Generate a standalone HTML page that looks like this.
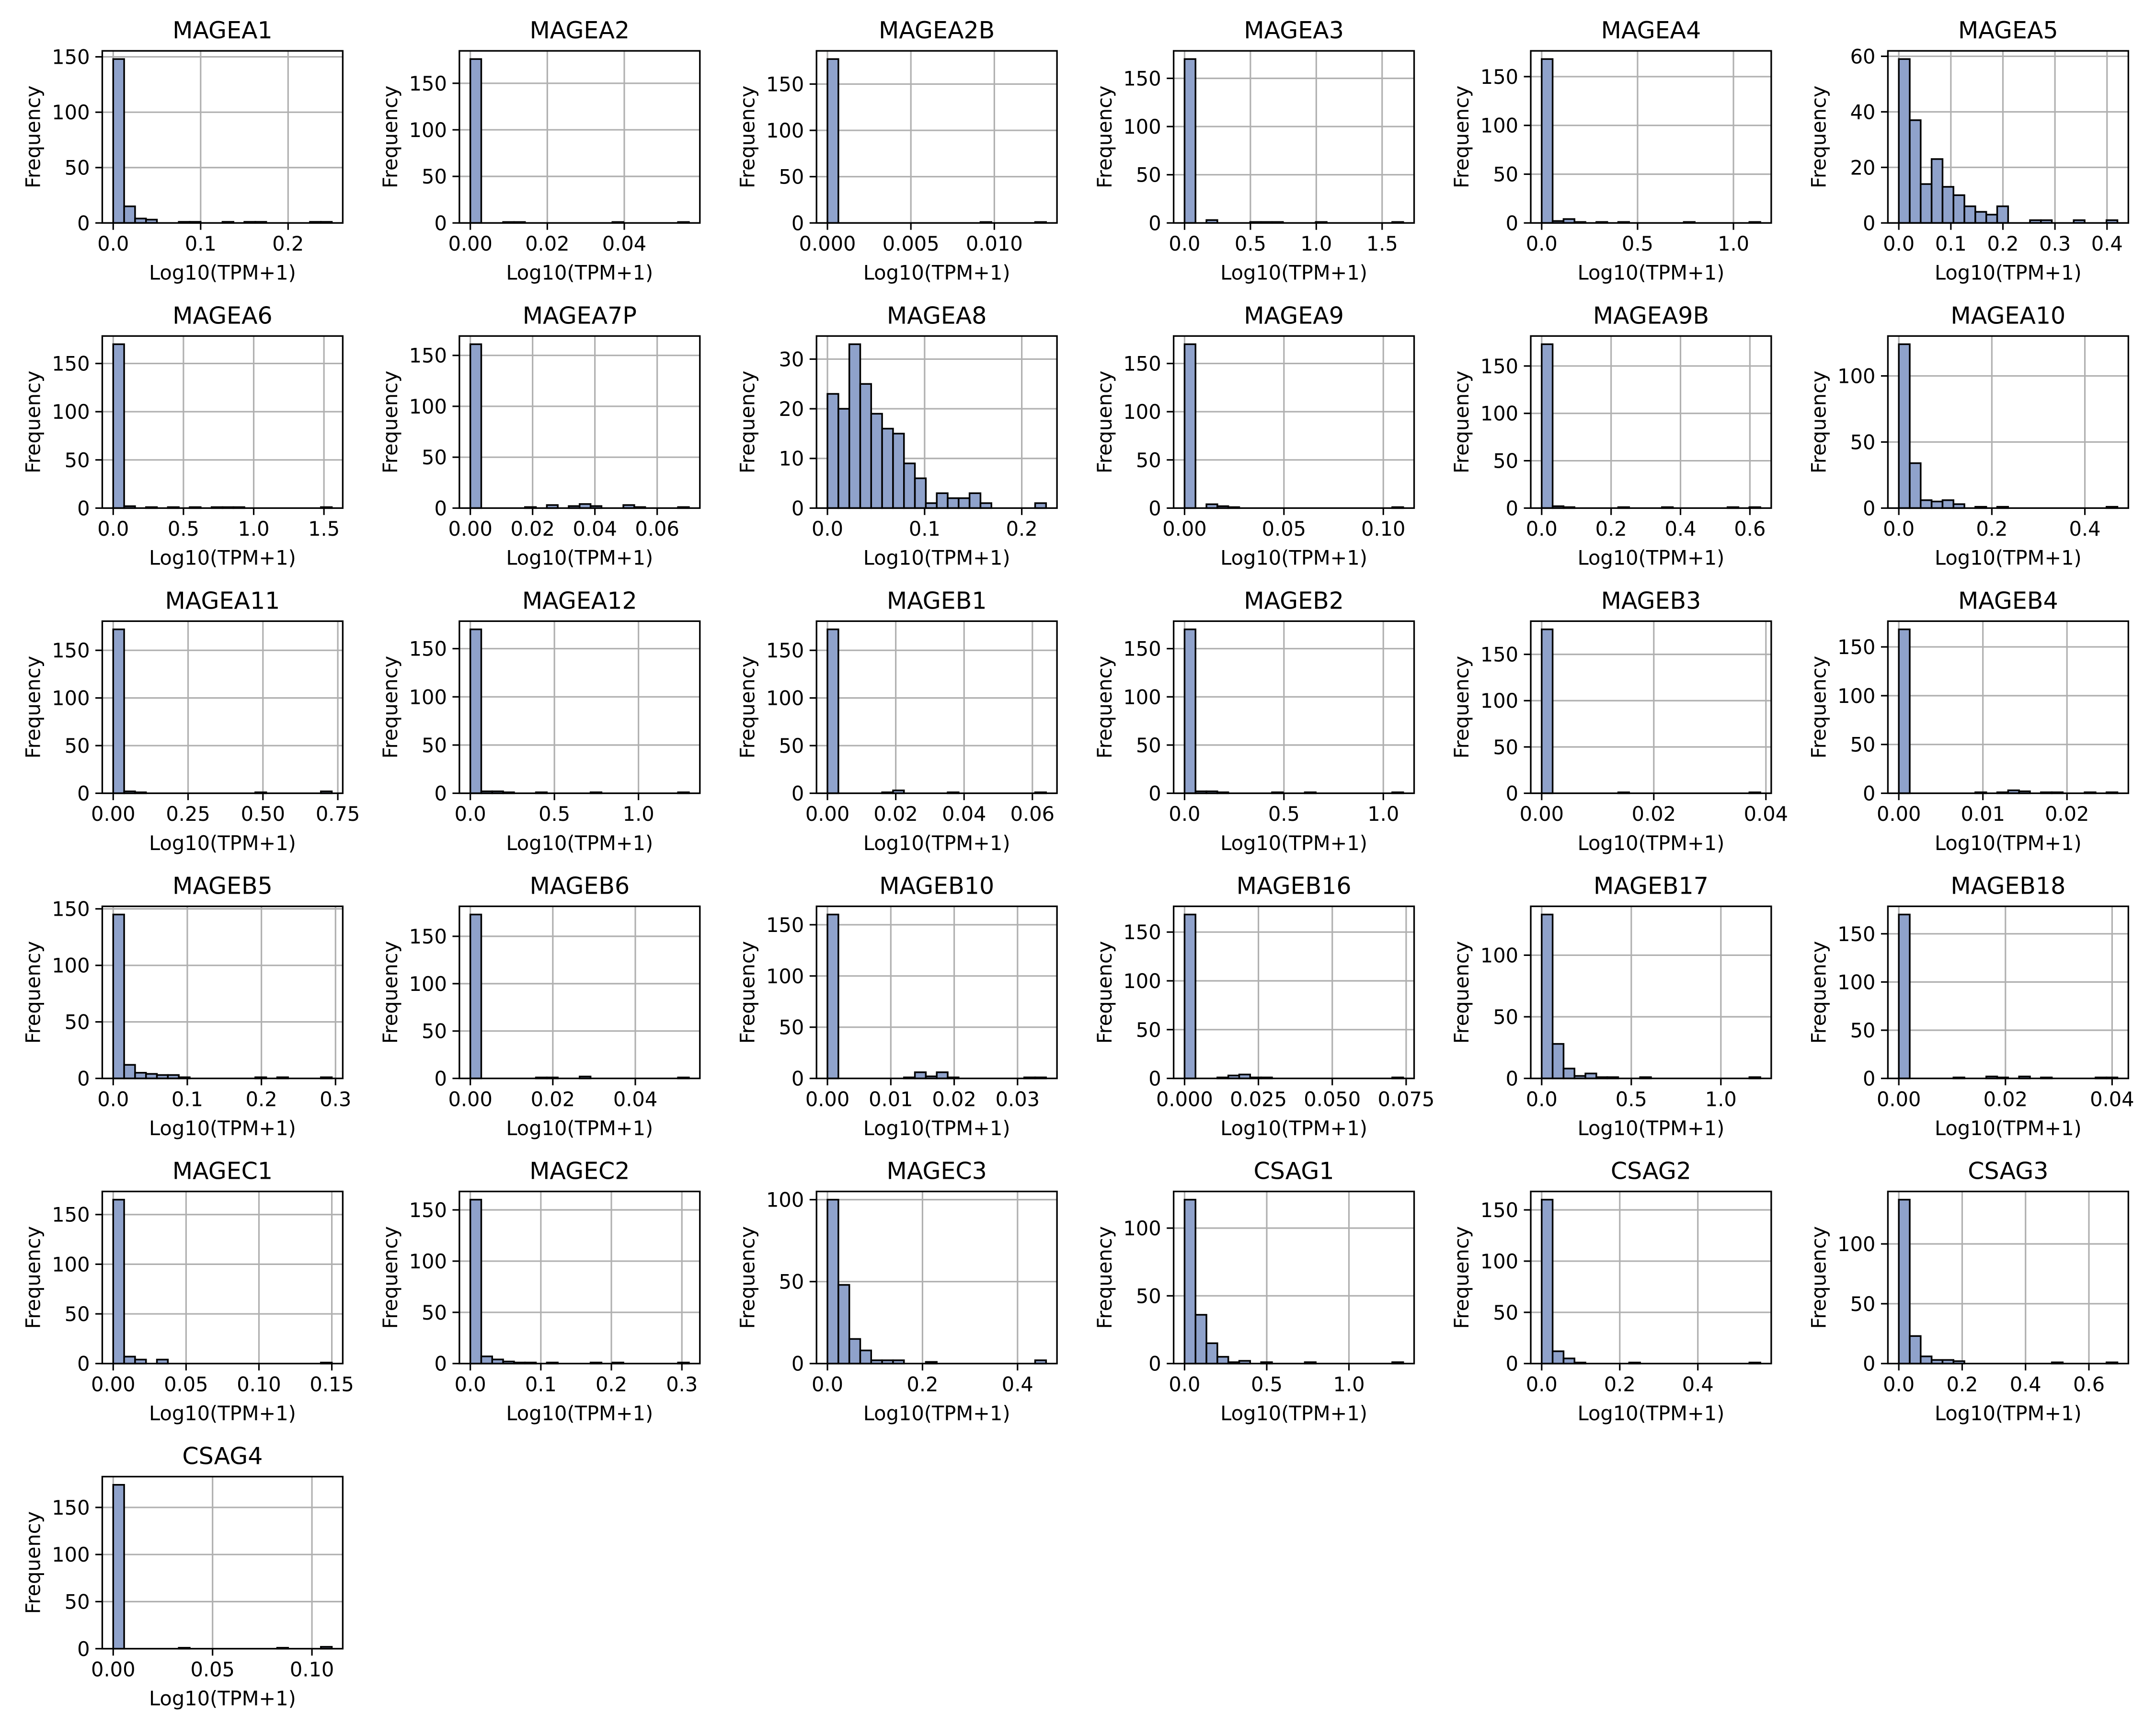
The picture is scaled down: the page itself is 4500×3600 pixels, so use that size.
<!DOCTYPE html>
<html><head><meta charset="utf-8"><style>
html,body{margin:0;padding:0;background:#fff;}
svg{display:block;}
text{font-family:"DejaVu Sans","Liberation Sans",sans-serif;fill:#000;}
</style></head><body>
<svg id="chart" xmlns="http://www.w3.org/2000/svg" width="4500" height="3600" viewBox="0 0 1560 1248" preserveAspectRatio="none"></svg>
<script>
const genes = ["MAGEA1","MAGEA2","MAGEA2B","MAGEA3","MAGEA4","MAGEA5","MAGEA6","MAGEA7P","MAGEA8","MAGEA9","MAGEA9B","MAGEA10","MAGEA11","MAGEA12","MAGEB1","MAGEB2","MAGEB3","MAGEB4","MAGEB5","MAGEB6","MAGEB10","MAGEB16","MAGEB17","MAGEB18","MAGEC1","MAGEC2","MAGEC3","CSAG1","CSAG2","CSAG3","CSAG4"];
const maxValues = [0.25,0.0568,0.0131,1.66,1.14,0.42,1.556,0.0702,0.225,0.11,0.63,0.47,0.73,1.3,0.064,1.1,0.039,0.026,0.295,0.053,0.0345,0.074,1.22,0.041,0.15,0.31,0.46,1.33,0.56,0.69,0.11];
const binCounts = [
[148,15,4,3,0,0,1,1,0,0,1,0,1,1,0,0,0,0,1,1],
[176,0,0,1,1,0,0,0,0,0,0,0,0,1,0,0,0,0,0,1],
[177,0,0,0,0,0,0,0,0,0,0,0,0,0,1,0,0,0,0,1],
[170,0,3,0,0,0,1,1,1,0,0,0,1,0,0,0,0,0,0,1],
[168,2,4,1,0,1,0,1,0,0,0,0,0,1,0,0,0,0,0,1],
[59,37,14,23,13,10,6,4,3,6,0,0,1,1,0,0,1,0,0,1],
[170,2,0,1,0,1,0,1,0,1,1,1,0,0,0,0,0,0,0,1],
[161,0,0,0,0,1,0,3,0,2,4,2,0,0,3,1,0,0,0,1],
[23,20,33,25,19,16,15,9,6,1,3,2,2,3,1,0,0,0,0,1],
[170,0,4,2,1,0,0,0,0,0,0,0,0,0,0,0,0,0,0,1],
[173,2,1,0,0,0,0,1,0,0,0,1,0,0,0,0,0,1,0,1],
[124,34,6,5,6,3,0,1,0,1,0,0,0,0,0,0,0,0,0,1],
[172,2,1,0,0,0,0,0,0,0,0,0,0,1,0,0,0,0,0,2],
[170,2,2,1,0,0,1,0,0,0,0,1,0,0,0,0,0,0,0,1],
[172,0,0,0,0,1,3,0,0,0,0,1,0,0,0,0,0,0,0,1],
[170,2,2,1,0,0,0,0,1,0,0,1,0,0,0,0,0,0,0,1],
[177,0,0,0,0,0,0,1,0,0,0,0,0,0,0,0,0,0,0,1],
[168,0,0,0,0,0,0,1,0,1,3,2,0,1,1,0,0,1,0,1],
[145,12,5,4,3,3,1,0,0,0,0,0,0,1,0,1,0,0,0,1],
[173,0,0,0,0,0,1,1,0,0,2,0,0,0,0,0,0,0,0,1],
[160,0,0,0,0,0,0,1,6,2,6,1,0,0,0,0,0,0,1,1],
[168,0,0,1,3,4,1,1,0,0,0,0,0,0,0,0,0,0,0,1],
[133,28,8,2,4,1,1,0,0,1,0,0,0,0,0,0,0,0,0,1],
[170,0,0,0,0,1,0,0,2,1,0,2,0,1,0,0,0,0,1,1],
[165,7,4,0,4,0,0,0,0,0,0,0,0,0,0,0,0,0,0,1],
[160,7,4,2,1,1,0,1,0,0,0,1,0,1,0,0,0,0,0,1],
[100,48,15,8,2,2,2,0,0,1,0,0,0,0,0,0,0,0,0,2],
[121,36,15,5,1,2,0,1,0,0,0,1,0,0,0,0,0,0,0,1],
[160,12,5,1,0,0,0,0,1,0,0,0,0,0,0,0,0,0,0,1],
[137,23,6,3,3,2,0,0,0,0,0,0,0,0,1,0,0,0,0,1],
[174,0,0,0,0,0,1,0,0,0,0,0,0,0,0,1,0,0,0,2]
];
const xTicks = [
["0.0","0.1","0.2"],["0.00","0.02","0.04"],["0.000","0.005","0.010"],["0.0","0.5","1.0","1.5"],["0.0","0.5","1.0"],["0.0","0.1","0.2","0.3","0.4"],
["0.0","0.5","1.0","1.5"],["0.00","0.02","0.04","0.06"],["0.0","0.1","0.2"],["0.00","0.05","0.10"],["0.0","0.2","0.4","0.6"],["0.0","0.2","0.4"],
["0.00","0.25","0.50","0.75"],["0.0","0.5","1.0"],["0.00","0.02","0.04","0.06"],["0.0","0.5","1.0"],["0.00","0.02","0.04"],["0.00","0.01","0.02"],
["0.0","0.1","0.2","0.3"],["0.00","0.02","0.04"],["0.00","0.01","0.02","0.03"],["0.000","0.025","0.050","0.075"],["0.0","0.5","1.0"],["0.00","0.02","0.04"],
["0.00","0.05","0.10","0.15"],["0.0","0.1","0.2","0.3"],["0.0","0.2","0.4"],["0.0","0.5","1.0"],["0.0","0.2","0.4"],["0.0","0.2","0.4","0.6"],
["0.00","0.05","0.10"]
];

const NS = "http://www.w3.org/2000/svg";
const svg = document.getElementById("chart");
function mk(tag, attrs, parent){ const e=document.createElementNS(NS,tag); for(const k in attrs) e.setAttribute(k,attrs[k]); parent.appendChild(e); return e; }
const W=174, H=124.5;
genes.forEach((g,i)=>{
  const c=i%6, r=Math.floor(i/6);
  const x0=74+258.4*c, y0=36.8+206.3*r;
  const counts=binCounts[i], R=maxValues[i];
  const cmax=Math.max(...counts);
  const ylim=cmax*1.05;
  const xs=v=>x0+(v+0.05*R)/(1.1*R)*W;
  const ys=v=>y0+H-v/ylim*H;
  let step=[10,20,50,100].find(s=>ylim/s<=4);
  const grp=mk("g",{},svg);
  
  
  xTicks[i].forEach(t=>{
    const v=parseFloat(t), x=xs(v);
    const gl=mk("line",{x1:x,x2:x,y1:y0,y2:y0+H,stroke:"#b0b0b0","stroke-width":1.1},grp);
    
    
    mk("line",{x1:x,x2:x,y1:y0+H,y2:y0+H+5,stroke:"#000","stroke-width":1.1},grp);
    const tx=mk("text",{x:x,y:y0+H+20,"font-size":14.4,"text-anchor":"middle"},grp);
    tx.textContent=t;
    
    
  });
  for(let v=0; v<=ylim; v+=step){
    const y=ys(v);
    const gl=mk("line",{x1:x0,x2:x0+W,y1:y,y2:y,stroke:"#b0b0b0","stroke-width":1.1},grp);
    
    
    mk("line",{x1:x0-5,x2:x0,y1:y,y2:y,stroke:"#000","stroke-width":1.1},grp);
    const ty=mk("text",{x:x0-9,y:y+5.2,"font-size":14.4,"text-anchor":"end"},grp);
    ty.textContent=String(v);
    
    
  }
  const bw=R/20;
  counts.forEach((n,k)=>{
    if(n<=0) return;
    const xa=xs(k*bw), xb=xs((k+1)*bw);
    const b=mk("rect",{x:xa,y:ys(n),width:xb-xa,height:ys(0)-ys(n),fill:"#8fa2cb",stroke:"#000","stroke-width":1.2},grp);
    
    
  });
  const fr=mk("rect",{x:x0,y:y0,width:W,height:H,fill:"none",stroke:"#000","stroke-width":1.15},grp);
  
  
  const tt=mk("text",{x:x0+W/2,y:y0-9,"font-size":17,"text-anchor":"middle"},grp);
  tt.textContent=g;
  
  
  const xl=mk("text",{x:x0+W/2,y:y0+H+41,"font-size":14.4,"text-anchor":"middle"},grp);
  xl.textContent="Log10(TPM+1)";
  
  
  const yx=x0-45, yy=y0+H/2;
  const yl=mk("text",{x:yx,y:yy,"font-size":14.4,"text-anchor":"middle",transform:`rotate(-90 ${yx} ${yy})`},grp);
  yl.textContent="Frequency";
  
  
});
</script>
</body></html>
